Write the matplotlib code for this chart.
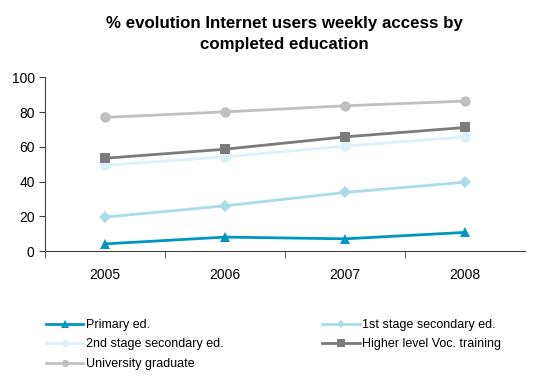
import matplotlib
matplotlib.use("Agg")
import matplotlib.pyplot as plt
from matplotlib.ticker import FixedLocator

plt.rcParams["font.family"] = ["Liberation Sans", "DejaVu Sans"]

years = ["2005", "2006", "2007", "2008"]
primary = [4.2, 8.1, 7.1, 10.8]
first_stage = [19.6, 26.1, 33.8, 39.7]
second_stage = [49.5, 54.3, 60.5, 65.8]
higher_voc = [53.5, 58.7, 65.8, 71.2]
university = [77.0, 80.2, 83.7, 86.4]

series = [
    ("Primary ed.", primary, "#0096c3", "^"),
    ("1st stage secondary ed.", first_stage, "#a9dce8", "D"),
    ("2nd stage secondary ed.", second_stage, "#dcf1f7", "o"),
    ("Higher level Voc. training", higher_voc, "#7b7b7b", "s"),
    ("University graduate", university, "#c0c0c0", "o"),
]


def main():
    fig = plt.figure(figsize=(5.44, 3.76), dpi=100)
    ax = fig.add_axes([0.083, 0.332, 0.882, 0.462])

    x = list(range(len(years)))
    lines = {}
    for name, vals, color, marker in series:
        ms = 6.5 if marker == "D" else 7.5
        (ln,) = ax.plot(x, vals, color=color, marker=marker, markersize=ms,
                        linewidth=2, markeredgewidth=0, label=name)
        lines[name] = ln

    ax.set_xlim(-0.5, 3.5)
    ax.set_ylim(0, 100)
    ax.set_yticks(range(0, 101, 20))
    ax.set_xticks(x)
    ax.set_xticklabels(years, fontsize=10)
    ax.tick_params(axis="x", which="major", length=0, pad=12)
    ax.xaxis.set_minor_locator(FixedLocator([-0.5, 0.5, 1.5, 2.5]))
    ax.tick_params(axis="x", which="minor", length=5, color="#404040")
    ax.tick_params(axis="y", labelsize=10, length=4, color="#404040")
    for side in ("top", "right"):
        ax.spines[side].set_visible(False)
    for side in ("left", "bottom"):
        ax.spines[side].set_color("#404040")
        ax.spines[side].set_linewidth(0.8)

    fig.text(0.522, 0.957, "% evolution Internet users weekly access by\ncompleted education",
             fontsize=12.2, fontweight="bold", ha="center", va="top",
             linespacing=1.5)

    # column-major fill gives the row order of the legend
    order = ["Primary ed.", "2nd stage secondary ed.", "University graduate",
             "1st stage secondary ed.", "Higher level Voc. training"]
    fig.legend([lines[n] for n in order], order, ncol=2, frameon=False,
               loc="upper left", bbox_to_anchor=(0.075, 0.165), fontsize=9,
               handlelength=3.0, handletextpad=0.2, columnspacing=7.9,
               labelspacing=0.6, borderaxespad=0, markerscale=0.7)

    fig.savefig("out.png", dpi=100)


if __name__ == "__main__":
    main()
